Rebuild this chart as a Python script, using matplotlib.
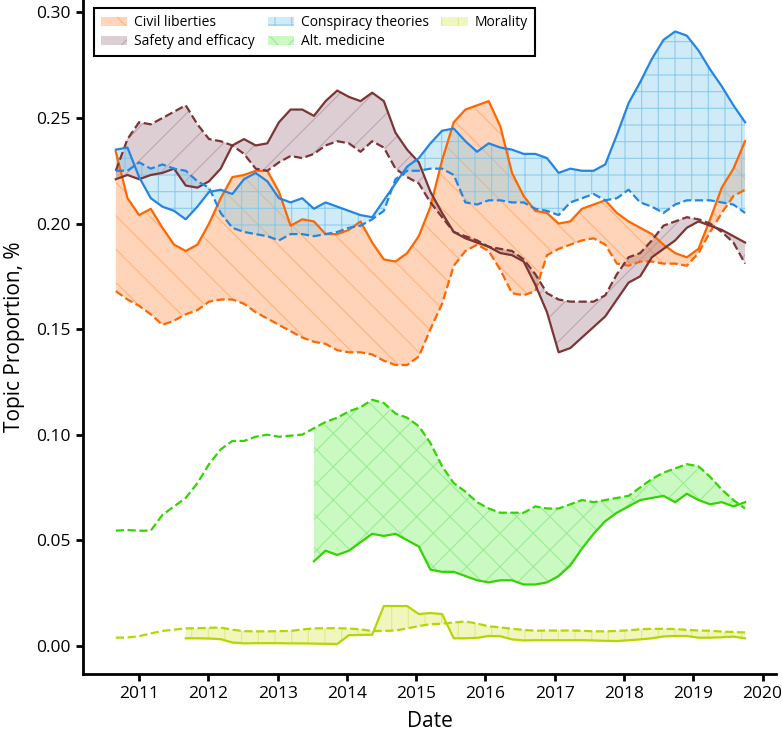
import numpy as np
import pandas as pd
import matplotlib
matplotlib.use('Agg')
import matplotlib.pyplot as plt
import matplotlib.dates as mdates
from matplotlib.colors import to_rgba

plt.rcParams['font.family'] = ['Open Sans', 'DejaVu Sans']
plt.rcParams['hatch.linewidth'] = 0.8

nan = np.nan

# bi-monthly samples, Sep 2010 .. Oct 2019
dates = pd.date_range('2010-09-01', '2019-10-01', periods=55)

civil_solid = [0.234, 0.212, 0.204, 0.207, 0.198, 0.190, 0.187, 0.190, 0.200, 0.212,
               0.222, 0.223, 0.225, 0.225, 0.215, 0.199, 0.202, 0.201, 0.195, 0.195,
               0.197, 0.201, 0.191, 0.183, 0.182, 0.186, 0.194, 0.208, 0.230, 0.248,
               0.254, 0.256, 0.258, 0.246, 0.224, 0.213, 0.206, 0.205, 0.200, 0.201,
               0.207, 0.209, 0.211, 0.205, 0.201, 0.198, 0.195, 0.190, 0.186, 0.184,
               0.188, 0.202, 0.217, 0.226, 0.239]
civil_dashed = [0.168, 0.164, 0.161, 0.157, 0.152, 0.154, 0.157, 0.159, 0.163, 0.164,
                0.164, 0.162, 0.158, 0.155, 0.152, 0.149, 0.146, 0.144, 0.143, 0.140,
                0.139, 0.139, 0.138, 0.135, 0.133, 0.133, 0.137, 0.150, 0.162, 0.180,
                0.187, 0.190, 0.187, 0.178, 0.167, 0.166, 0.168, 0.185, 0.188, 0.190,
                0.192, 0.193, 0.190, 0.181, 0.180, 0.182, 0.182, 0.181, 0.181, 0.180,
                0.186, 0.196, 0.205, 0.213, 0.216]

safety_solid = [0.221, 0.223, 0.221, 0.223, 0.224, 0.226, 0.218, 0.217, 0.220, 0.226,
                0.237, 0.240, 0.237, 0.238, 0.248, 0.254, 0.254, 0.251, 0.258, 0.263,
                0.260, 0.258, 0.262, 0.258, 0.243, 0.235, 0.229, 0.215, 0.205, 0.196,
                0.193, 0.191, 0.189, 0.186, 0.185, 0.182, 0.171, 0.158, 0.139, 0.141,
                0.146, 0.151, 0.156, 0.164, 0.172, 0.175, 0.184, 0.188, 0.192, 0.198,
                0.201, 0.199, 0.197, 0.194, 0.191]
safety_dashed = [0.225, 0.240, 0.248, 0.247, 0.250, 0.253, 0.256, 0.247, 0.240, 0.239,
                 0.237, 0.233, 0.226, 0.225, 0.229, 0.232, 0.231, 0.233, 0.237, 0.239,
                 0.238, 0.234, 0.239, 0.236, 0.226, 0.222, 0.219, 0.210, 0.203, 0.196,
                 0.194, 0.192, 0.189, 0.188, 0.187, 0.183, 0.176, 0.167, 0.164, 0.163,
                 0.163, 0.163, 0.166, 0.176, 0.184, 0.186, 0.192, 0.199, 0.201, 0.203,
                 0.202, 0.200, 0.196, 0.191, 0.181]

consp_solid = [0.235, 0.236, 0.222, 0.212, 0.208, 0.206, 0.202, 0.208, 0.215, 0.216,
               0.214, 0.221, 0.224, 0.220, 0.212, 0.210, 0.212, 0.207, 0.210, 0.208,
               0.206, 0.204, 0.203, 0.211, 0.219, 0.227, 0.231, 0.238, 0.244, 0.245,
               0.239, 0.234, 0.238, 0.236, 0.235, 0.233, 0.233, 0.231, 0.224, 0.226,
               0.225, 0.225, 0.228, 0.242, 0.257, 0.267, 0.278, 0.287, 0.291, 0.289,
               0.282, 0.273, 0.265, 0.256, 0.248]
consp_dashed = [0.225, 0.225, 0.229, 0.226, 0.228, 0.226, 0.225, 0.220, 0.217, 0.205,
                0.198, 0.196, 0.195, 0.194, 0.192, 0.195, 0.195, 0.194, 0.195, 0.196,
                0.198, 0.199, 0.202, 0.206, 0.221, 0.225, 0.225, 0.226, 0.226, 0.223,
                0.210, 0.209, 0.211, 0.211, 0.210, 0.210, 0.207, 0.206, 0.204, 0.210,
                0.212, 0.214, 0.211, 0.212, 0.216, 0.210, 0.208, 0.205, 0.209, 0.211,
                0.211, 0.211, 0.210, 0.209, 0.205]

altmed_solid = [nan, nan, nan, nan, nan, nan, nan, nan, nan, nan,
                nan, nan, nan, nan, nan, nan, nan, 0.040, 0.045, 0.043,
                0.045, 0.049, 0.053, 0.052, 0.053, 0.050, 0.047, 0.036, 0.035, 0.035,
                0.033, 0.031, 0.030, 0.031, 0.031, 0.029, 0.029, 0.030, 0.033, 0.038,
                0.046, 0.053, 0.059, 0.063, 0.066, 0.069, 0.070, 0.071, 0.068, 0.072,
                0.069, 0.067, 0.068, 0.066, 0.068]
altmed_dashed = [0.0545, 0.0548, 0.0545, 0.0545, 0.062, 0.066, 0.070, 0.077, 0.086, 0.093,
                 0.097, 0.097, 0.099, 0.100, 0.099, 0.0995, 0.100, 0.103, 0.106, 0.108,
                 0.111, 0.113, 0.1165, 0.115, 0.110, 0.108, 0.104, 0.096, 0.085, 0.077,
                 0.073, 0.068, 0.065, 0.063, 0.063, 0.063, 0.066, 0.065, 0.065, 0.067,
                 0.069, 0.068, 0.069, 0.070, 0.071, 0.075, 0.079, 0.082, 0.084, 0.086,
                 0.085, 0.080, 0.074, 0.069, 0.065]

moral_solid = [nan, nan, nan, nan, nan, nan, 0.0035, 0.0035, 0.0034, 0.0031,
               0.0015, 0.0011, 0.0012, 0.0012, 0.0012, 0.0011, 0.0011, 0.0010, 0.0009, 0.0008,
               0.0050, 0.0051, 0.0052, 0.0188, 0.0188, 0.0188, 0.0150, 0.0155, 0.0150, 0.0035,
               0.0035, 0.0037, 0.0046, 0.0045, 0.0030, 0.0025, 0.0026, 0.0026, 0.0026, 0.0026,
               0.0026, 0.0025, 0.0023, 0.0022, 0.0026, 0.0030, 0.0035, 0.0044, 0.0046, 0.0046,
               0.0038, 0.0038, 0.0040, 0.0043, 0.0035]
moral_dashed = [0.0038, 0.0039, 0.0045, 0.0058, 0.0070, 0.0076, 0.0082, 0.0083, 0.0085, 0.0086,
                0.0076, 0.0069, 0.0068, 0.0068, 0.0069, 0.0070, 0.0077, 0.0082, 0.0083, 0.0083,
                0.0082, 0.0077, 0.0070, 0.0070, 0.0072, 0.0082, 0.0093, 0.0102, 0.0104, 0.0110,
                0.0115, 0.0105, 0.0092, 0.0087, 0.0080, 0.0075, 0.0071, 0.0072, 0.0072, 0.0072,
                0.0071, 0.0068, 0.0068, 0.0070, 0.0073, 0.0078, 0.0080, 0.0080, 0.0079, 0.0075,
                0.0072, 0.0071, 0.0067, 0.0065, 0.0063]

# name, solid, dashed, line colour, fill colour, fill alpha, hatch colour, hatch
topics = [
    ('Civil liberties', civil_solid, civil_dashed, '#ff6600', '#ff6600', 0.28, '#ffaa70', '\\'),
    ('Safety and efficacy', safety_solid, safety_dashed, '#7b3535', '#7b3f55', 0.25, '#b89aa4', '/'),
    ('Conspiracy theories', consp_solid, consp_dashed, '#2586e2', '#87ceeb', 0.40, '#7cc6ec', '+'),
    ('Alt. medicine', altmed_solid, altmed_dashed, '#33d400', '#44ee22', 0.28, '#8fe98a', 'x'),
    ('Morality', moral_solid, moral_dashed, '#b5d600', '#c8e000', 0.26, '#d8ea80', '|'),
]

fig = plt.figure(figsize=(7.82, 7.39), dpi=100)
ax = fig.add_axes([83 / 782, 65 / 739, 693 / 782, 674 / 739])

handles = []
for name, solid, dashed, lc, fc, fa, hc, hatch in topics:
    solid = np.array(solid, dtype=float)
    dashed = np.array(dashed, dtype=float)
    h = ax.fill_between(dates, solid, dashed, facecolor=to_rgba(fc, fa),
                        edgecolor=to_rgba(hc, 0.8), hatch=hatch, linewidth=0,
                        label=name)
    handles.append(h)
    ax.plot(dates, solid, color=lc, lw=1.6)
    ax.plot(dates, dashed, color=lc, lw=1.6, ls='--')

ax.set_xlim(pd.Timestamp('2010-03-12'), pd.Timestamp('2020-03-12'))
ax.set_ylim(-0.0134, 0.3059)
ax.xaxis.set_major_locator(mdates.YearLocator())
ax.xaxis.set_major_formatter(mdates.DateFormatter('%Y'))
ax.set_yticks(np.arange(0, 0.31, 0.05))
ax.yaxis.set_major_formatter(plt.FormatStrFormatter('%.2f'))

for s in ['top', 'right']:
    ax.spines[s].set_visible(False)
for s in ['left', 'bottom']:
    ax.spines[s].set_linewidth(2)
ax.tick_params(axis='both', direction='out', length=5, width=2, labelsize=12.5, pad=4)

ax.set_xlabel('Date', fontsize=15, labelpad=6)
ax.set_ylabel('Topic Proportion, %', fontsize=15, labelpad=8)

leg = ax.legend(handles=handles, ncol=3, loc='upper left',
                bbox_to_anchor=(0.0159, 0.988), borderaxespad=0,
                fontsize=10, fancybox=False, framealpha=1, edgecolor='black',
                handlelength=1.9, handleheight=0.6, handletextpad=0.5,
                columnspacing=0.9, labelspacing=0.3, borderpad=0.5)
leg.get_frame().set_linewidth(1.5)

fig.savefig('out.png', dpi=100)
